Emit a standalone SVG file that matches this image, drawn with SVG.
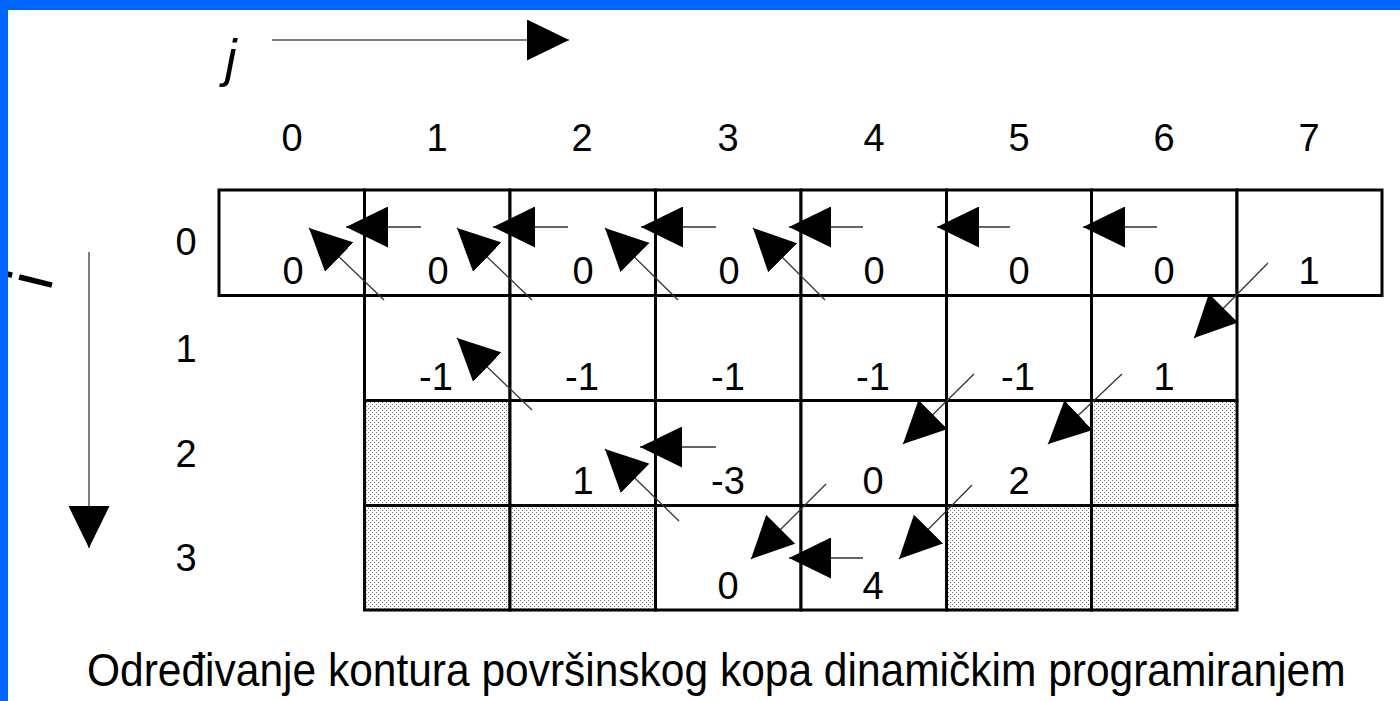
<svg xmlns="http://www.w3.org/2000/svg" width="1400" height="701" viewBox="0 0 1400 701">
<style>
.t{font-family:"Liberation Sans",Arial,sans-serif;font-size:38px;fill:#000;text-anchor:middle}
.it{font-family:"Liberation Sans",Arial,sans-serif;font-style:italic;fill:#000}
.cap{font-family:"Liberation Sans",Arial,sans-serif;font-size:42.5px;fill:#000}
.cell{stroke:#000;stroke-width:3;fill:#fff}
.sh{stroke:#000;stroke-width:3;fill:url(#dots)}
.c{stroke:#333;stroke-width:1.3;fill:none;marker-end:url(#ah)}
.ax{stroke:#555;stroke-width:1.5;fill:none;marker-end:url(#ah)}
</style>
<defs>
<pattern id="dots" width="4" height="4" patternUnits="userSpaceOnUse">
<rect width="4" height="4" fill="#fff"/>
<rect x="0" y="0" width="1" height="1" fill="#666"/>
<rect x="2" y="2" width="1" height="1" fill="#666"/>
</pattern>
<marker id="ah" markerUnits="userSpaceOnUse" markerWidth="42" markerHeight="41" refX="42" refY="20.5" orient="auto">
<path d="M0,0 L42,20.5 L0,41 Z" fill="#000"/>
</marker>
</defs>
<rect width="1400" height="701" fill="#fff"/>

<g id="axis-j">
<text class="it" x="225" y="76" font-size="52">j</text>
<line class="ax" x1="272" y1="40" x2="569" y2="40"/>
</g>
<g id="axis-i">
<text x="0" y="0" font-family="Liberation Sans, Arial, sans-serif" font-size="64" transform="translate(50.3,292) rotate(-76)">i</text>
<line class="ax" x1="89" y1="252" x2="89" y2="548"/>
</g>

<g id="col-headers">
<text class="t" x="292" y="151">0</text>
<text class="t" x="437" y="151">1</text>
<text class="t" x="582" y="151">2</text>
<text class="t" x="728" y="151">3</text>
<text class="t" x="874" y="151">4</text>
<text class="t" x="1019" y="151">5</text>
<text class="t" x="1164" y="151">6</text>
<text class="t" x="1309" y="151">7</text>
</g>
<g id="row-headers">
<text class="t" x="186" y="255">0</text>
<text class="t" x="186" y="362">1</text>
<text class="t" x="186" y="467">2</text>
<text class="t" x="186" y="571">3</text>
</g>

<g id="row0">
<g id="c00"><rect class="cell" x="219" y="190" width="145.5" height="105.5"/><text class="t" x="293" y="284">0</text></g>
<g id="c01"><rect class="cell" x="364.5" y="190" width="145.5" height="105.5"/><text class="t" x="438" y="284">0</text></g>
<g id="c02"><rect class="cell" x="510" y="190" width="145.5" height="105.5"/><text class="t" x="583" y="284">0</text></g>
<g id="c03"><rect class="cell" x="655.5" y="190" width="145.5" height="105.5"/><text class="t" x="729" y="284">0</text></g>
<g id="c04"><rect class="cell" x="801" y="190" width="145.5" height="105.5"/><text class="t" x="874" y="284">0</text></g>
<g id="c05"><rect class="cell" x="946.5" y="190" width="145" height="105.5"/><text class="t" x="1019" y="284">0</text></g>
<g id="c06"><rect class="cell" x="1091.5" y="190" width="145.5" height="105.5"/><text class="t" x="1164" y="284">0</text></g>
<g id="c07"><rect class="cell" x="1237" y="190" width="145" height="105.5"/><text class="t" x="1309" y="284">1</text></g>
</g>
<g id="row1">
<g id="c11"><rect class="cell" x="364.5" y="295.5" width="145.5" height="105"/><text class="t" x="436" y="390">-1</text></g>
<g id="c12"><rect class="cell" x="510" y="295.5" width="145.5" height="105"/><text class="t" x="582" y="390">-1</text></g>
<g id="c13"><rect class="cell" x="655.5" y="295.5" width="145.5" height="105"/><text class="t" x="728" y="390">-1</text></g>
<g id="c14"><rect class="cell" x="801" y="295.5" width="145.5" height="105"/><text class="t" x="873" y="390">-1</text></g>
<g id="c15"><rect class="cell" x="946.5" y="295.5" width="145" height="105"/><text class="t" x="1018" y="390">-1</text></g>
<g id="c16"><rect class="cell" x="1091.5" y="295.5" width="145.5" height="105"/><text class="t" x="1164" y="390">1</text></g>
</g>
<g id="row2">
<g id="c21"><rect class="sh" x="364.5" y="400.5" width="145.5" height="105"/></g>
<g id="c22"><rect class="cell" x="510" y="400.5" width="145.5" height="105"/><text class="t" x="583" y="494">1</text></g>
<g id="c23"><rect class="cell" x="655.5" y="400.5" width="145.5" height="105"/><text class="t" x="728" y="494">-3</text></g>
<g id="c24"><rect class="cell" x="801" y="400.5" width="145.5" height="105"/><text class="t" x="873" y="494">0</text></g>
<g id="c25"><rect class="cell" x="946.5" y="400.5" width="145" height="105"/><text class="t" x="1019" y="494">2</text></g>
<g id="c26"><rect class="sh" x="1091.5" y="400.5" width="145.5" height="105"/></g>
</g>
<g id="row3">
<g id="c31"><rect class="sh" x="364.5" y="505.5" width="145.5" height="104.5"/></g>
<g id="c32"><rect class="sh" x="510" y="505.5" width="145.5" height="104.5"/></g>
<g id="c33"><rect class="cell" x="655.5" y="505.5" width="145.5" height="104.5"/><text class="t" x="728" y="599">0</text></g>
<g id="c34"><rect class="cell" x="801" y="505.5" width="145.5" height="104.5"/><text class="t" x="873" y="599">4</text></g>
<g id="c35"><rect class="sh" x="946.5" y="505.5" width="145" height="104.5"/></g>
<g id="c36"><rect class="sh" x="1091.5" y="505.5" width="145.5" height="104.5"/></g>
</g>

<g id="connectors">
<line class="c" x1="421" y1="227" x2="346" y2="227"/>
<line class="c" x1="568" y1="227" x2="493" y2="227"/>
<line class="c" x1="716" y1="227" x2="641" y2="227"/>
<line class="c" x1="863" y1="227" x2="789" y2="227"/>
<line class="c" x1="1010" y1="227" x2="937" y2="227"/>
<line class="c" x1="1157" y1="227" x2="1083" y2="227"/>
<line class="c" x1="716" y1="447" x2="640" y2="447"/>
<line class="c" x1="863" y1="558" x2="789" y2="558"/>
<line class="c" x1="384" y1="300" x2="309" y2="228"/>
<line class="c" x1="532" y1="300" x2="457" y2="228"/>
<line class="c" x1="678" y1="300" x2="605" y2="228"/>
<line class="c" x1="825" y1="300" x2="753" y2="228"/>
<line class="c" x1="532" y1="410" x2="457" y2="338"/>
<line class="c" x1="679" y1="521" x2="605" y2="449"/>
<line class="c" x1="1268" y1="263" x2="1194" y2="338"/>
<line class="c" x1="974" y1="374" x2="903" y2="444"/>
<line class="c" x1="1122" y1="374" x2="1048" y2="444"/>
<line class="c" x1="826" y1="484" x2="751" y2="559"/>
<line class="c" x1="972" y1="485" x2="899" y2="559"/>
</g>

<g id="caption">
<text class="cap" x="0" y="0" transform="translate(87,686) scale(1,1.08)">Određivanje kontura površinskog kopa dinamičkim programiranjem</text>
</g>

<rect x="0" y="0" width="1400" height="10" fill="#0064FF"/>
<rect x="0" y="0" width="8" height="701" fill="#0064FF"/>
</svg>
